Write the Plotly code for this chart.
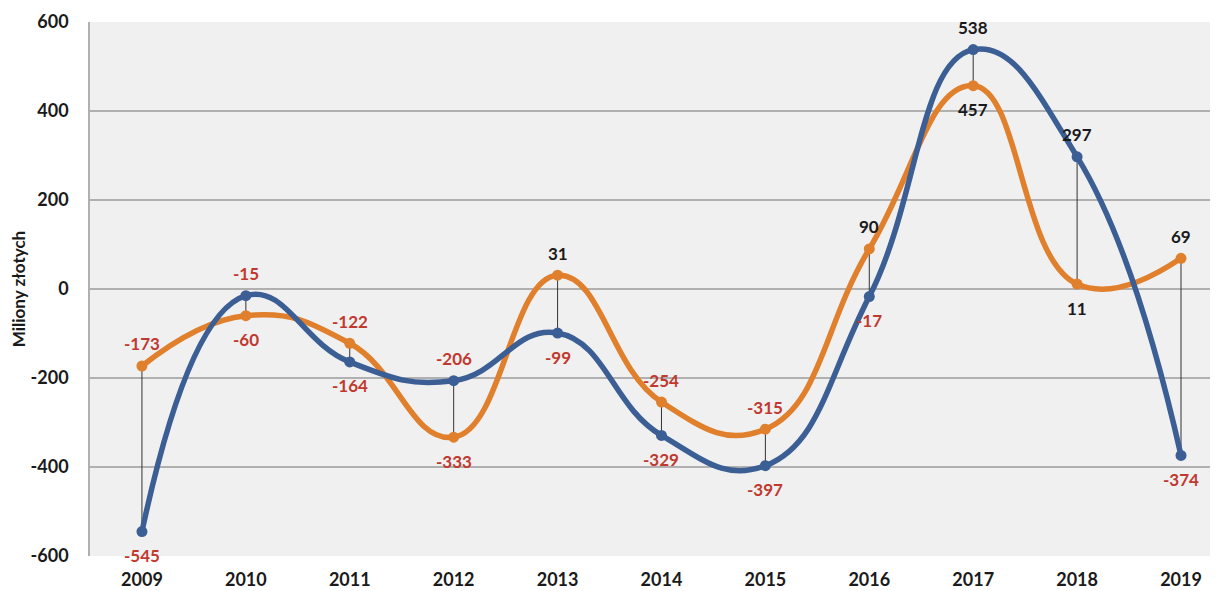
import plotly.graph_objects as go

years = ["2009", "2010", "2011", "2012", "2013", "2014", "2015", "2016", "2017", "2018", "2019"]
blue_vals = [-545, -15, -164, -206, -99, -329, -397, -17, 538, 297, -374]
orange_vals = [-173, -60, -122, -333, 31, -254, -315, 90, 457, 11, 69]
y_ticks = [-600, -400, -200, 0, 200, 400, 600]

BLUE = "#3b5e95"
ORANGE = "#e07f2c"
RED = "#c0392f"
DARK = "#1a1a1a"
FONT = "Lato"

# high-low connector lines
hx, hy = [], []
for yr, b, o in zip(years, blue_vals, orange_vals):
    hx += [yr, yr, None]
    hy += [b, o, None]

fig = go.Figure()
fig.add_trace(go.Scatter(x=hx, y=hy, mode="lines", line=dict(color="#333333", width=1),
                         hoverinfo="skip", showlegend=False))
for vals, col in ((orange_vals, ORANGE), (blue_vals, BLUE)):
    fig.add_trace(go.Scatter(
        x=years, y=vals, mode="lines+markers",
        line=dict(color=col, width=5.5, shape="spline", smoothing=1.3),
        marker=dict(color=col, size=11),
        showlegend=False, hoverinfo="skip"))

# data labels: higher value above, lower value below (x given as category index)
for i, (b, o) in enumerate(zip(blue_vals, orange_vals)):
    for v, other in ((b, o), (o, b)):
        above = v > other
        fig.add_annotation(
            x=i, y=v, xref="x", yref="y", text=str(v), showarrow=False,
            yshift=22 if above else -24,
            font=dict(family=FONT, size=17, color=RED if v < 0 else DARK, weight="bold"))

fig.update_layout(
    width=1210, height=583,
    margin=dict(l=82, r=0, t=14, b=35, autoexpand=False),
    paper_bgcolor="white", plot_bgcolor="#f0f0f0",
    font=dict(family=FONT, color=DARK),
    xaxis=dict(type="category", range=[-0.5, 10.356], showgrid=False, zeroline=False,
               showline=False, ticks="", automargin=False,
               tickfont=dict(size=18, weight="bold"), ticklabelstandoff=11),
    yaxis=dict(range=[-600, 600], tickvals=y_ticks, ticktext=[str(t) for t in y_ticks],
               showgrid=True, gridcolor="#b0b0b0", gridwidth=1.5, automargin=False,
               zeroline=False, showline=True, linecolor="#b0b0b0", linewidth=1.5, ticks="",
               tickfont=dict(size=18, weight="bold"), ticklabelstandoff=16,
               title=dict(text="Miliony złotych", font=dict(size=17, weight="bold"), standoff=12)),
)
fig.write_html("out.html")
